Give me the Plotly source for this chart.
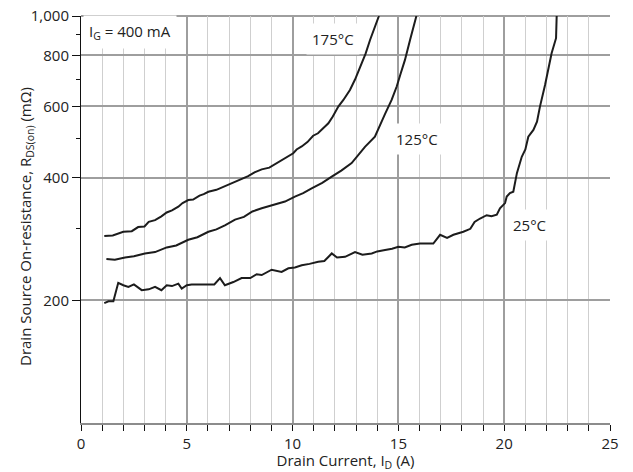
import math
import plotly.graph_objects as go

# ---- data ----
x_175 = [1.1, 1.5, 2.0, 2.4, 2.7, 3.0, 3.2, 3.5, 3.8, 4.05, 4.3, 4.6, 4.8, 5.07, 5.3, 5.6, 5.8, 6.02,
         6.4, 6.8, 7.0, 7.28, 7.6, 7.9, 8.2, 8.54, 8.9, 9.2, 9.64, 10.03, 10.19, 10.43, 10.7, 10.97,
         11.2, 11.4, 11.69, 11.9, 12.16, 12.4, 12.71, 12.95, 13.19, 13.45, 13.66, 13.85, 14.05, 14.08]
r_175 = [288, 289, 295, 296, 303, 304, 312, 315, 322, 329, 333, 340, 347, 353, 354, 362, 365, 370,
         374, 382, 387, 392, 398, 404, 413, 420, 424, 433, 447, 460, 470, 478, 490, 508, 515, 528,
         545, 566, 599, 622, 658, 698, 751, 808, 873, 930, 987, 1000]

x_125 = [1.2, 1.6, 2.08, 2.5, 3.02, 3.5, 4.05, 4.5, 5.07, 5.5, 6.02, 6.4, 6.8, 7.28, 7.7, 8.1, 8.54,
         9.0, 9.48, 9.64, 10.11, 10.5, 10.9, 11.4, 11.85, 12.3, 12.79, 13.1, 13.42, 13.89, 14.13,
         14.37, 14.68, 14.92, 15.1, 15.31, 15.55, 15.7, 15.82, 15.85]
r_125 = [253, 252, 255, 257, 261, 263, 270, 273, 282, 286, 295, 299, 306, 316, 321, 331, 337,
         342, 347, 350, 360, 367, 377, 389, 403, 417, 435, 454, 477, 505, 540, 575, 622, 671, 720,
         780, 873, 930, 987, 1000]

x_25 = [1.1, 1.3, 1.53, 1.62, 1.76, 2.0, 2.24, 2.5, 2.87, 3.2, 3.5, 3.8, 4.05, 4.3, 4.6, 4.76,
        5.0, 5.23, 5.6, 6.02, 6.3, 6.57, 6.8, 7.2, 7.59, 8.0, 8.3, 8.54, 9.01, 9.48, 9.8, 10.11,
        10.43, 10.8, 11.21, 11.5, 11.85, 12.1, 12.48, 12.95, 13.3, 13.74, 14.0, 14.37, 14.7, 15.0,
        15.3, 15.63, 16.02, 16.3, 16.65, 16.97, 17.3, 17.6, 18.07, 18.4, 18.6, 18.86, 19.17, 19.4,
        19.65, 19.8, 20.04, 20.12, 20.27, 20.43, 20.6, 20.83, 21.0, 21.14, 21.38, 21.55, 21.69,
        21.93, 22.09, 22.24, 22.45, 22.48]
r_25 = [197, 199, 199, 208, 221, 218, 216, 219, 212, 213, 216, 212, 218, 217, 220, 214,
        218, 219, 219, 219, 219, 227, 218, 222, 227, 227, 232, 231, 238, 235, 240, 241,
        244, 246, 249, 250, 261, 255, 256, 263, 259, 261, 264, 266, 268, 271,
        270, 274, 276, 276, 276, 290, 285, 290, 295, 300, 312, 318, 324, 322,
        325, 337, 347, 360, 367, 370, 411, 451, 470, 505, 525, 550, 599,
        677, 751, 810, 882, 1000]

x_major_ticks = [0, 5, 10, 15, 20, 25]
y_tick_vals = [200, 400, 600, 800, 1000]
y_tick_text = ["200", "400", "600", "800", "1,000"]
y_minor_vals = [300, 500, 700, 900]

curve_labels = ["175°C", "125°C", "25°C"]
label_x = [11.9, 15.9, 21.2]
label_y = [880, 500, 306]

gate_label = "I<sub>G</sub> = 400 mA"
gate_x, gate_y = 2.3, 915

x_title = "Drain Current, I<sub>D</sub> (A)"
y_title = "Drain Source On-resistance, R<sub>DS(on)</sub> (mΩ)"

FONT = "Open Sans"
TXT = "#222222"
LINE = "#1c1c1c"
GMAJ = "#9e9e9e"
GMIN = "#cfcfcf"
FS = 15

fig = go.Figure()
for xs, ys in [(x_175, r_175), (x_125, r_125), (x_25, r_25)]:
    fig.add_trace(go.Scatter(x=xs, y=ys, mode="lines",
                             line=dict(color=LINE, width=2), showlegend=False,
                             hoverinfo="skip"))

# top frame gridline (the 1,000 grid line at the plot edge)
fig.add_shape(type="line", xref="paper", yref="paper", x0=0, x1=1, y0=1, y1=1,
              line=dict(color=GMAJ, width=2), layer="below")

for t, lx, ly in zip(curve_labels, label_x, label_y):
    fig.add_annotation(x=lx, y=math.log10(ly), yref="y", xref="x", text=t, showarrow=False,
                       xanchor="center", yanchor="middle",
                       font=dict(family=FONT, size=FS, color=TXT),
                       bgcolor="white", borderpad=5)

fig.add_annotation(x=gate_x, y=math.log10(gate_y), xref="x", yref="y",
                   text=gate_label, showarrow=False, xanchor="center", yanchor="middle",
                   font=dict(family=FONT, size=FS, color=TXT),
                   bgcolor="white", borderpad=5)

# y-axis title as rotated annotation for exact placement
fig.add_annotation(x=-0.104, y=0.484, xref="paper", yref="paper", text=y_title,
                   textangle=-90, showarrow=False, xanchor="center", yanchor="middle",
                   font=dict(family=FONT, size=FS, color=TXT))

fig.update_layout(
    width=633, height=472,
    margin=dict(l=81, r=23, t=16, b=49, autoexpand=False),
    paper_bgcolor="white", plot_bgcolor="white",
    font=dict(family=FONT, size=FS, color=TXT),
    xaxis=dict(
        range=[0, 25], tickmode="array", tickvals=x_major_ticks,
        ticks="outside", ticklen=6, tickcolor="#111", tickwidth=1,
        showgrid=True, gridcolor=GMAJ, gridwidth=2,
        showline=True, linecolor="#8c8c8c", linewidth=2,
        zeroline=False, automargin=False,
        minor=dict(dtick=1, tick0=0, ticks="outside", ticklen=6, tickcolor="#111",
                   showgrid=True, gridcolor=GMIN, gridwidth=1),
        title=dict(text=x_title, font=dict(size=FS), standoff=0),
        tickfont=dict(size=FS),
    ),
    yaxis=dict(
        type="log", range=[2, 3], tickmode="array", tickvals=y_tick_vals,
        ticktext=y_tick_text, ticks="outside", ticklen=8, tickcolor="#111",
        showgrid=True, gridcolor=GMAJ, gridwidth=2,
        showline=True, linecolor="#111", linewidth=1,
        zeroline=False, automargin=False,
        minor=dict(tickmode="array", tickvals=y_minor_vals, ticks="outside", ticklen=4,
                   tickcolor="#111", showgrid=False),
        tickfont=dict(size=FS),
    ),
)

fig.write_html("out.html", config={"displayModeBar": False},
               post_script="document.body.style.margin='0';document.body.style.overflow='hidden';")
